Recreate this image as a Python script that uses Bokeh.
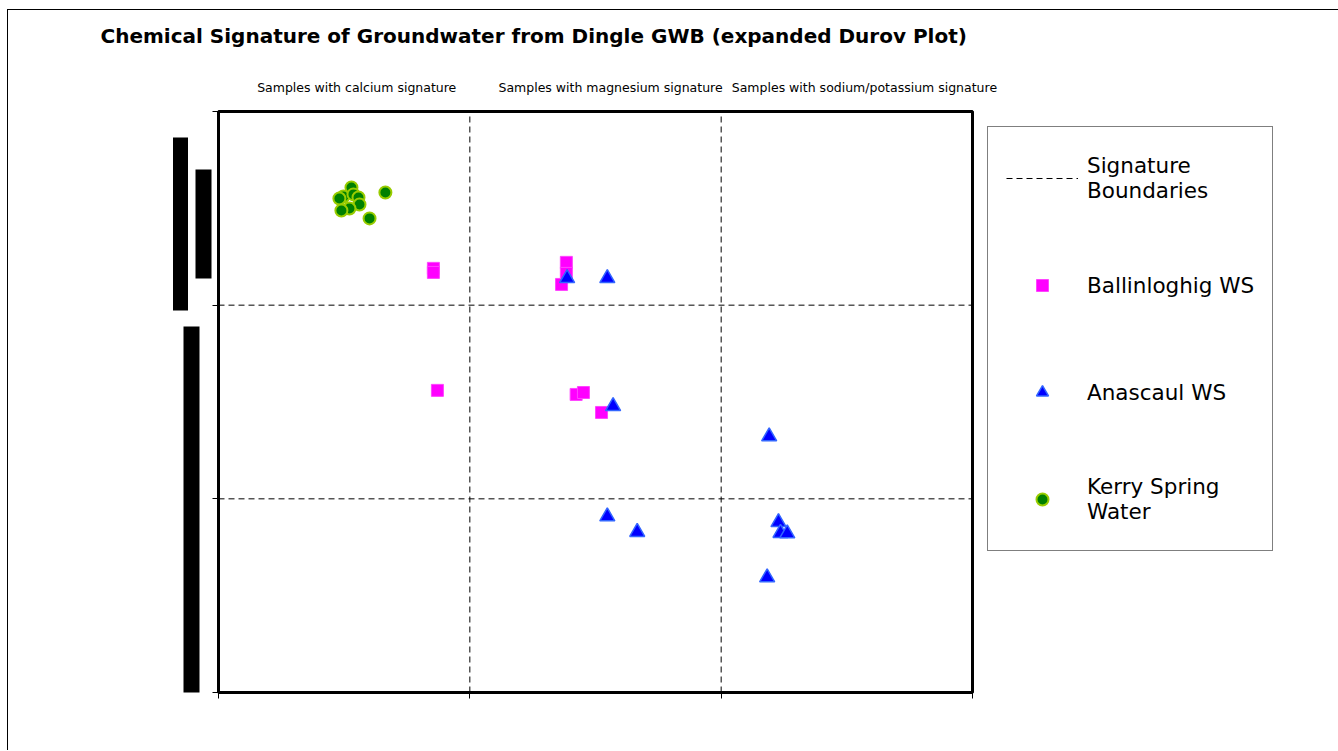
from bokeh.plotting import figure
from bokeh.models import Range1d, Legend, LegendItem, FixedTicker, LinearAxis
from bokeh.embed import file_html
from bokeh.resources import INLINE

# ---- data ----
title_text = "Chemical Signature of Groundwater from Dingle GWB (expanded Durov Plot)"
column_labels = ["Samples with calcium signature",
                 "Samples with magnesium signature",
                 "Samples with sodium/potassium signature"]
column_label_x = [55, 156, 257]
ticks = [0, 100, 200, 300]

boundary_x = [[100, 100], [200, 200], [0, 300], [0, 300]]
boundary_y = [[0, 300], [0, 300], [100, 100], [200, 200]]

ballinloghig_x = [85.5, 85.5, 138.4, 138.4, 136.5, 87.1, 142.3, 145.2, 152.4]
ballinloghig_y = [219.0, 216.9, 222.1, 216.4, 210.7, 156.0, 153.9, 154.9, 144.6]

anascaul_x = [138.7, 154.7, 157.0, 219.1, 154.7, 166.6, 222.8, 223.6, 226.3, 218.3]
anascaul_y = [213.9, 213.9, 147.8, 132.2, 90.9, 82.8, 87.9, 82.3, 82.1, 59.4]

kerry_x = [52.9, 49.7, 48.1, 53.7, 55.7, 56.1, 52.1, 48.9, 60.1, 66.4]
kerry_y = [260.8, 256.1, 255.1, 257.2, 255.6, 252.0, 249.9, 248.9, 244.8, 258.2]

# extents (y, data units) of the three blacked-out vertical side labels
side_bar_bounds = [(213.8, 270.1), (-13.4, 189.0), (197.2, 286.6)]

FONT = "DejaVu Sans"

p = figure(frame_width=754, frame_height=581,
           x_range=Range1d(0, 300), y_range=Range1d(0, 300),
           output_backend="svg", toolbar_location=None,
           min_border_left=210, min_border_top=101,
           min_border_bottom=58, min_border_right=359,
           background_fill_color="white", border_fill_color="white")

p.styles = {"margin-left": "7px", "margin-top": "9px",
            "border-top": "1px solid black", "border-left": "1px solid black",
            "border-right": "1px solid black"}

p.title.text = title_text
p.title.text_font = FONT
p.title.text_font_size = "20px"
p.title.text_font_style = "bold"
p.title.text_color = "black"
p.title.align = "left"
p.title.vertical_align = "bottom"
p.title.offset = -118
p.title.standoff = 0

p.grid.visible = False
for ax in (p.xaxis, p.yaxis):
    ax.ticker = FixedTicker(ticks=ticks)
    ax.major_label_text_color = None
    ax.major_label_text_font_size = "1px"
    ax.minor_tick_line_color = None
    ax.major_tick_in = 0
    ax.major_tick_out = 6
    ax.axis_line_color = "black"
    ax.major_tick_line_color = "black"

# spacer so that the first side bar sits left of the tick marks
p.yaxis.axis_label = " "
p.yaxis.axis_label_text_font_size = "1px"
p.yaxis.axis_label_standoff = 5

# column captions on an axis above the frame (spacer label lifts the title)
top_axis = LinearAxis(ticker=FixedTicker(ticks=column_label_x),
                      major_label_overrides={t: s for t, s in zip(column_label_x, column_labels)},
                      axis_line_color=None, major_tick_line_color=None,
                      minor_tick_line_color=None, major_tick_out=0, major_tick_in=0,
                      major_label_standoff=17,
                      major_label_text_font=FONT, major_label_text_font_size="12.5px",
                      major_label_text_color="black",
                      axis_label=" ", axis_label_text_font_size="1px",
                      axis_label_standoff=25)
p.add_layout(top_axis, "above")

# blacked-out side labels, drawn as thick axis rules
for (lo, hi), w, gap in zip(side_bar_bounds, [16, 16, 15], [8, 7, 0]):
    p.add_layout(LinearAxis(bounds=(lo, hi), ticker=FixedTicker(ticks=[]),
                            major_tick_out=0, major_tick_in=0, major_label_standoff=0,
                            minor_tick_line_color=None, major_tick_line_color=None,
                            axis_label=" " if gap else None,
                            axis_label_text_font_size="1px",
                            axis_label_standoff=gap,
                            axis_line_width=w, axis_line_color="black",
                            axis_line_cap="butt"), "left")

p.outline_line_color = "black"
p.outline_line_width = 3
p.outline_line_alpha = 1

r_line = p.multi_line(boundary_x, boundary_y, line_color="black",
                      line_dash="6 4", line_width=1)
r_b = p.scatter(ballinloghig_x, ballinloghig_y, marker="square", size=12,
                fill_color="#FF00FF", line_color="#FF44FF", line_width=1)
r_a = p.scatter(anascaul_x, anascaul_y, marker="triangle", size=15,
                fill_color="#0000FF", line_color="#3366FF", line_width=1.5)
r_k = p.scatter(kerry_x, kerry_y, marker="circle", size=12,
                fill_color="#008000", line_color="#99CC00", line_width=2)

legend = Legend(items=[
    LegendItem(label="Signature\nBoundaries", renderers=[r_line]),
    LegendItem(label="Ballinloghig WS", renderers=[r_b]),
    LegendItem(label="Anascaul WS", renderers=[r_a]),
    LegendItem(label="Kerry Spring\nWater", renderers=[r_k]),
], location="top_left")
legend.label_text_font = FONT
legend.label_text_font_size = "21.5px"
legend.label_text_color = "black"
legend.glyph_width = 72
legend.glyph_height = 30
legend.label_height = 66
legend.label_standoff = 9
legend.label_width = 160
legend.padding = 18
legend.spacing = 41
legend.margin = 15
legend.border_line_color = "black"
legend.border_line_width = 1
legend.background_fill_color = "white"
legend.background_fill_alpha = 1
p.add_layout(legend, "right")

open("out.html", "w").write(file_html(p, INLINE))
